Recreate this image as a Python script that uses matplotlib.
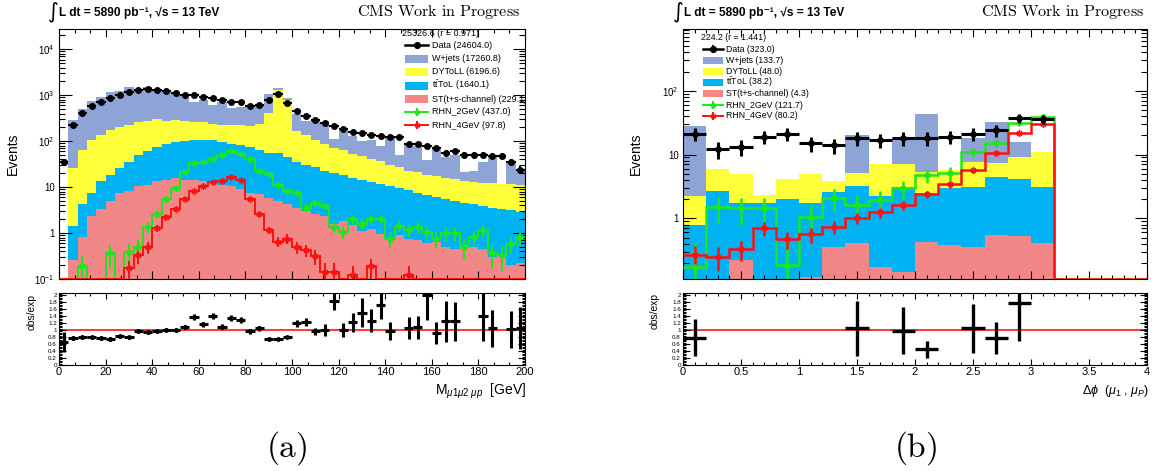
import numpy as np
import matplotlib
matplotlib.use("Agg")
import matplotlib.pyplot as plt
from matplotlib.patches import Rectangle
from matplotlib.lines import Line2D
from matplotlib.ticker import MultipleLocator, LogLocator, FuncFormatter, NullFormatter

plt.rcParams["font.family"] = ["Liberation Sans", "DejaVu Sans"]
plt.rcParams["mathtext.fontset"] = "custom"
plt.rcParams["mathtext.rm"] = "Liberation Sans"
plt.rcParams["mathtext.it"] = "Liberation Sans:italic"
plt.rcParams["mathtext.bf"] = "Liberation Sans:bold"
plt.rcParams["axes.linewidth"] = 0.8

nan = np.nan

# ---------------- (a) three-muon invariant mass, 4 GeV bins ----------------
mass_edges = np.arange(0, 201, 4)
mass_data = [35, 220, 405, 590, 720, 890, 1020, 1180, 1290, 1390,
             1320, 1260, 1140, 1030, 1000, 910, 880, 790, 720, 700,
             590, 620, 780, 1050, 690, 460, 345, 283, 247, 210,
             187, 158, 153, 135, 130, 126, 124, 86, 86, 78,
             70, 56, 61, 50, 50, 50, 48, 48, 35, 24]
mass_wjets = [0, 260, 449, 642, 800, 1031, 1039, 1266, 1070, 1213,
              1070, 966, 850, 672, 470, 518, 389, 490, 317, 327,
              395, 355, 634, 120, 82, 217, 145, 182, 159, 43,
              125, 76, 55, 64, 40, 99, 23, 59, 59, 20,
              58.5, 29, 34, 8, 9, 23.5, 34, 0, 22.5, 11.8]
mass_dyll = [0, 24.5, 59.8, 97.4, 121.6, 153.3, 179, 192, 210, 221,
             229, 193, 193, 182, 155, 155, 135, 131, 131, 138,
             137, 171, 365, 1245, 734, 134, 106, 81, 66, 51,
             45, 37, 33, 28, 25, 20, 18, 14.5, 13.8, 11.9,
             11.5, 10.2, 10.1, 9.2, 9.0, 8.4, 8.7, 8.3, 8.6, 8.1]
mass_ttbar = [0, 1.2, 3.4, 5.2, 10.1, 13.7, 18.4, 27.8, 39.5, 49.6,
              62.6, 74.4, 81.1, 85.4, 90.9, 91.6, 92.6, 85.6, 78.5, 73.1,
              68.4, 57, 49.1, 50, 41.8, 32.4, 28, 24.4, 20.6, 18.4,
              16.2, 14.5, 13.4, 11.8, 10.85, 9.7, 8.6, 7.75, 6.9, 6.3,
              5.55, 5.1, 4.65, 4.05, 3.7, 3.45, 3.3, 2.95, 2.9, 2.68]
mass_st = [0, 0.26, 0.82, 2.4, 3.3, 5.0, 7.6, 8.2, 10.5, 11.4,
           13.4, 14.6, 15.9, 14.6, 14.1, 13.4, 12.4, 11.4, 10.5, 8.9,
           7.6, 7.0, 5.9, 5.0, 4.2, 3.6, 3.0, 2.6, 2.4, 1.6,
           1.8, 1.5, 1.1, 1.2, 0.95, 0.8, 0.9, 0.75, 0.7, 0.6,
           0.65, 0.5, 0.45, 0.55, 0.5, 0.45, 0.3, 0.35, 0.2, 0.22]
mass_rhn2 = [0, 0, 0.19, 0, 0, 0.36, 0, 0.38, 0.5, 1.35,
             2.6, 5.5, 9.7, 21, 33, 36, 42, 50, 61, 53,
             42, 22, 19, 11.4, 8.2, 7.6, 3.6, 4.6, 3.9, 1.35,
             1.05, 2.0, 1.6, 2.0, 2.0, 0.76, 1.45, 1.15, 1.35, 1.05,
             0.76, 0.98, 0.98, 0.5, 0.82, 1.15, 0.36, 0.33, 0.59, 0.82]
mass_rhn4 = [0, 0, 0, 0, 0, 0, 0, 0.17, 0.33, 0.5,
             1.3, 2.2, 3.3, 5.5, 8.2, 10.5, 12.8, 13.9, 16.4, 14.6,
             5.5, 2.6, 1.15, 0.65, 0.76, 0.5, 0.43, 0.31, 0.145, 0.145,
             0, 0.125, 0, 0.19, 0, 0, 0, 0.125, 0, 0,
             0, 0, 0, 0, 0, 0, 0, 0, 0, 0]
mass_ratio = [0.65, 0.77, 0.79, 0.79, 0.77, 0.74, 0.82, 0.79, 0.97, 0.93,
              0.96, 1.01, 1.0, 1.08, 1.37, 1.17, 1.4, 1.1, 1.34, 1.28,
              0.97, 1.05, 0.74, 0.74, 0.8, 1.19, 1.23, 0.97, 1.0, 1.83,
              1.0, 1.22, 1.5, 1.27, 1.72, 0.97, nan, 1.05, 1.08, 2.0,
              0.92, 1.25, 1.25, nan, nan, 1.4, 1.05, nan, 1.02, 1.05]
mass_ratio_err = [0.28, 0.06, 0.05, 0.05, 0.05, 0.05, 0.05, 0.05, 0.05, 0.05,
                  0.05, 0.05, 0.05, 0.06, 0.08, 0.07, 0.09, 0.07, 0.09, 0.08,
                  0.07, 0.07, 0.03, 0.03, 0.04, 0.1, 0.12, 0.1, 0.16, 0.27,
                  0.2, 0.27, 0.42, 0.34, 0.41, 0.25, nan, 0.32, 0.33, 0.72,
                  0.32, 0.58, 0.55, nan, nan, 0.7, 0.53, nan, 0.53, 0.6]
mass_header = "25326.6 (r = 0.971)"
mass_labels = ["Data (24604.0)", "W+jets (17260.8)", "DYToLL (6196.6)",
               r"t$\bar{\mathrm{t}}$ToL (1640.1)", "ST(t+s-channel) (229.1)",
               "RHN_2GeV (437.0)", "RHN_4GeV (97.8)"]

# ---------------- (b) delta phi(mu1, muP), 0.2 bins ----------------
dphi_edges = np.round(np.arange(0, 4.001, 0.2), 2)
dphi_data = [21, 12, 13, 19, 21, 15, 14, 18, 17, 18,
             18, 19, 21, 24, 37, 36, 0, 0, 0, 0]
dphi_wjets = [25.8, 0, 0, 0, 0, 0, 0, 14.8, 0, 10.8,
              37.2, 0, 10.2, 25.3, 6.7, 0, 0, 0, 0, 0]
dphi_dyll = [1.45, 3.2, 3.14, 0.6, 2.1, 3.2, 1.2, 1.95, 4.86, 3.96,
             2.94, 2.75, 4.56, 2.8, 5.1, 7.86, 0, 0, 0, 0]
dphi_ttbar = [0.79, 2.7, 1.54, 1.72, 1.87, 1.64, 2.23, 2.85, 2.06, 3.0,
              2.03, 2.57, 2.78, 3.95, 3.58, 2.73, 0, 0, 0, 0]
dphi_st = [0, 0, 0.22, 0, 0.11, 0.12, 0.35, 0.41, 0.175, 0.146,
           0.43, 0.38, 0.36, 0.55, 0.52, 0.41, 0, 0, 0, 0]
dphi_rhn2 = [0.175, 1.52, 1.43, 1.43, 0.185, 1.06, 2.06, 1.62, 1.94, 2.95,
             4.77, 5.07, 11.0, 15.3, 31.6, 39.0, 0, 0, 0, 0]
dphi_rhn4 = [0.27, 0.25, 0.33, 0.70, 0.47, 0.56, 0.74, 1.02, 1.24, 1.62,
             2.38, 3.4, 5.7, 10.7, 21.4, 30.0, 0, 0, 0, 0]
dphi_ratio = [0.78, nan, nan, nan, nan, nan, nan, 1.05, nan, 0.98,
              0.45, nan, 1.05, 0.77, 1.77, nan, nan, nan, nan, nan]
dphi_ratio_err = [0.53, nan, nan, nan, nan, nan, nan, 0.78, nan, 0.67,
                  0.24, nan, 0.7, 0.45, 1.09, nan, nan, nan, nan, nan]
dphi_header = "224.2 (r = 1.441)"
dphi_labels = ["Data (323.0)", "W+jets (133.7)", "DYToLL (48.0)",
               r"t$\bar{\mathrm{t}}$ToL (38.2)", "ST(t+s-channel) (4.3)",
               "RHN_2GeV (121.7)", "RHN_4GeV (80.2)"]

# ---------------- style ----------------
COL_W = "#8fa4d6"
COL_DY = "#ffff3a"
COL_TT = "#00b2f2"
COL_ST = "#f28787"
COL_RHN2 = "#1ee61e"
COL_RHN4 = "#ff1010"
ASTER = (6, 2, 0)

FIG_W, FIG_H = 1154, 471
fig = plt.figure(figsize=(FIG_W / 100, FIG_H / 100), dpi=100)


def frame(x0, y0, x1, y1):
    return [x0 / FIG_W, 1 - y1 / FIG_H, (x1 - x0) / FIG_W, (y1 - y0) / FIG_H]


def fpos(x, y):
    return x / FIG_W, 1 - y / FIG_H


def decade_label(v, pos):
    e = int(round(np.log10(v)))
    if e == 0:
        return "1"
    if e == 1:
        return "10"
    return r"$10^{%d}$" % e


def draw_stack(ax, edges, layers, floor):
    lower = np.full(len(edges) - 1, floor)
    total = np.zeros(len(edges) - 1)
    for vals, col in layers:
        total = total + np.asarray(vals, float)
        upper = np.where(total > 0, np.maximum(total, floor), floor)
        ax.stairs(upper, edges, baseline=lower, fill=True, color=col, lw=0, zorder=1)
        lower = upper


def draw_signal(ax, edges, vals, col, weight, floor, lw, ms):
    vals = np.asarray(vals, float)
    centers = 0.5 * (edges[:-1] + edges[1:])
    ax.stairs(np.maximum(vals, floor), edges, baseline=None, color=col, lw=lw, zorder=4)
    m = vals > 0
    err = np.sqrt(weight * vals[m])
    lo = np.minimum(err, vals[m] - 0.5 * floor)
    ax.errorbar(centers[m], vals[m], yerr=[lo, err], fmt="none", ecolor=col,
                elinewidth=lw, capsize=0, zorder=4)
    ax.plot(centers[m], vals[m], ls="none", marker=ASTER, ms=ms, mec=col, mew=1.1, zorder=5)


def draw_data(ax, edges, counts, ms, lw):
    counts = np.asarray(counts, float)
    centers = 0.5 * (edges[:-1] + edges[1:])
    half = 0.5 * np.diff(edges)
    m = counts > 0
    ax.errorbar(centers[m], counts[m], yerr=np.sqrt(counts[m]), xerr=half[m], fmt="o",
                ms=ms, color="k", elinewidth=lw, capsize=0, zorder=6)


def draw_ratio(ax, edges, ratio, err, ms, lw):
    ratio = np.asarray(ratio, float)
    err = np.asarray(err, float)
    centers = 0.5 * (edges[:-1] + edges[1:])
    half = 0.5 * np.diff(edges)
    m = ~np.isnan(ratio)
    ax.axhline(1.0, color="red", lw=1.1, zorder=1)
    ax.errorbar(centers[m], ratio[m], yerr=err[m], xerr=half[m], fmt="o", ms=ms,
                color="k", elinewidth=lw, capsize=0, zorder=3)
    ax.set_ylim(0, 2.06)


def style_main(ax, xmaj, xmin, ylim):
    ax.set_yscale("log", nonpositive="clip")
    ax.set_ylim(*ylim)
    ax.xaxis.set_major_locator(MultipleLocator(xmaj))
    ax.xaxis.set_minor_locator(MultipleLocator(xmin))
    ax.yaxis.set_major_locator(LogLocator(base=10, numticks=20))
    ax.yaxis.set_minor_locator(LogLocator(base=10, subs=np.arange(2, 10), numticks=20))
    ax.yaxis.set_major_formatter(FuncFormatter(decade_label))
    ax.yaxis.set_minor_formatter(NullFormatter())
    ax.tick_params(which="both", direction="in", top=True, right=True, width=0.8,
                   labelbottom=False, labelsize=7, pad=3)
    ax.tick_params(axis="y", which="major", length=9)
    ax.tick_params(axis="y", which="minor", length=4.5)
    ax.tick_params(axis="x", which="major", length=5.5)
    ax.tick_params(axis="x", which="minor", length=2.8)


def style_ratio(ax, xlim, xmaj, xmin):
    ax.set_xlim(*xlim)
    ax.xaxis.set_major_locator(MultipleLocator(xmaj))
    ax.xaxis.set_minor_locator(MultipleLocator(xmin))
    ax.xaxis.set_major_formatter(FuncFormatter(lambda v, p: "%g" % round(v, 2)))
    ax.yaxis.set_major_locator(MultipleLocator(0.2))
    ax.yaxis.set_minor_locator(MultipleLocator(0.04))
    ax.yaxis.set_major_formatter(FuncFormatter(lambda v, p: "%g" % round(v, 2)))
    ax.tick_params(which="both", direction="in", top=True, right=True, width=0.8)
    ax.tick_params(axis="x", which="major", length=4, labelsize=8, pad=1.5)
    ax.tick_params(axis="x", which="minor", length=2)
    ax.tick_params(axis="y", which="major", length=5, labelsize=4.5, pad=1.5)
    ax.tick_params(axis="y", which="minor", length=2.5)


def draw_legend(ax, header, header_xy, rows_y, hx0, hx1, text_x, labels, fs, patch_h,
                ms, data_bar):
    ax.text(*fpos(*header_xy), header, transform=fig.transFigure, fontsize=fs,
            va="center", ha="left", clip_on=True)
    kinds = [("data", "black"), ("fill", COL_W), ("fill", COL_DY), ("fill", COL_TT),
             ("fill", COL_ST), ("line", COL_RHN2), ("line", COL_RHN4)]
    xm = 0.5 * (hx0 + hx1)
    for (kind, col), y, lab in zip(kinds, rows_y, labels):
        if kind == "fill":
            x, yb = fpos(hx0, y + patch_h / 2)
            fig.add_artist(Rectangle((x, yb), (hx1 - hx0) / FIG_W, patch_h / FIG_H,
                                     transform=fig.transFigure, color=col, lw=0))
        else:
            (xa, ya), (xb, _) = fpos(hx0, y), fpos(hx1, y)
            fig.add_artist(Line2D([xa, xb], [ya, ya], transform=fig.transFigure,
                                  color=col, lw=1.8 if kind == "data" else 1.4))
            xc, yc = fpos(xm, y)
            if kind != "data" or data_bar:
                (_, yt), (_, ybm) = fpos(xm, y - 3), fpos(xm, y + 3)
                fig.add_artist(Line2D([xc, xc], [ybm, yt], transform=fig.transFigure,
                                      color=col, lw=1.4))
            fig.add_artist(Line2D([xc], [yc], transform=fig.transFigure, ls="none",
                                  marker="o" if kind == "data" else ASTER, ms=ms,
                                  color=col, mec=col, mew=1.1))
        ax.text(*fpos(text_x, y), lab, transform=fig.transFigure, fontsize=fs,
                va="center", ha="left", clip_on=True)


# ---------------- panel (a) ----------------
mass_floor = 0.1
ax_m = fig.add_axes(frame(59, 29, 525, 279))
draw_stack(ax_m, mass_edges, [(mass_st, COL_ST), (mass_ttbar, COL_TT),
                              (mass_dyll, COL_DY), (mass_wjets, COL_W)], mass_floor)
draw_signal(ax_m, mass_edges, mass_rhn2, COL_RHN2, 0.1, mass_floor, 1.4, 4.5)
draw_signal(ax_m, mass_edges, mass_rhn4, COL_RHN4, 0.04, mass_floor, 1.4, 4.5)
draw_data(ax_m, mass_edges, mass_data, 4.0, 1.5)
ax_m.set_xlim(0, 200)
style_main(ax_m, 20, 20 / 3, (mass_floor, 27700))
draw_legend(ax_m, mass_header, (402, 33), [45, 58.5, 72, 85.5, 99, 112, 125],
            405, 428, 432, mass_labels, 6.5, 8, 4, False)

ax_mr = fig.add_axes(frame(59, 293, 525, 365))
draw_ratio(ax_mr, mass_edges, mass_ratio, mass_ratio_err, 2.5, 2.2)
style_ratio(ax_mr, (0, 200), 20, 20 / 3)

# ---------------- panel (b) ----------------
dphi_floor = 0.112
ax_d = fig.add_axes(frame(683, 29, 1147, 279))
draw_stack(ax_d, dphi_edges, [(dphi_st, COL_ST), (dphi_ttbar, COL_TT),
                              (dphi_dyll, COL_DY), (dphi_wjets, COL_W)], dphi_floor)
draw_signal(ax_d, dphi_edges, dphi_rhn2, COL_RHN2, 0.3, dphi_floor, 1.8, 4.5)
draw_signal(ax_d, dphi_edges, dphi_rhn4, COL_RHN4, 0.04, dphi_floor, 1.8, 4.5)
draw_data(ax_d, dphi_edges, dphi_data, 3.8, 2.2)
ax_d.set_xlim(0, 4)
style_main(ax_d, 0.5, 0.1, (dphi_floor, 927))
draw_legend(ax_d, dphi_header, (701, 37), [49, 60.5, 71.5, 82.5, 93.5, 105, 116],
            703, 723, 726, dphi_labels, 6.3, 7, 4, True)

ax_dr = fig.add_axes(frame(683, 293, 1147, 365))
draw_ratio(ax_dr, dphi_edges, dphi_ratio, dphi_ratio_err, 2.5, 2.4)
style_ratio(ax_dr, (0, 4), 0.5, 0.1)

# ---------------- titles, axis titles, captions ----------------
for x_int, x_txt, x_cms in [(48, 59, 520), (673, 684, 1144)]:
    fig.text(*fpos(x_int, 12), "\u222b", fontsize=15, ha="left", va="center",
             family="DejaVu Sans")
    fig.text(*fpos(x_txt, 13), "L dt = 5890 pb\u207b\u00b9, \u221as = 13 TeV",
             fontsize=8.6, fontweight="bold", ha="left", va="center",
             family=["Liberation Sans", "DejaVu Sans"])
    fig.text(*fpos(x_cms, 12), r"$\mathrm{CMS\ Work\ in\ Progress}$", fontsize=11.6,
             ha="right", va="center", math_fontfamily="cm")

fig.text(*fpos(13, 154), "Events", rotation=90, fontsize=10, ha="center", va="center")
fig.text(*fpos(636, 154), "Events", rotation=90, fontsize=10, ha="center", va="center")
fig.text(*fpos(32, 312), "obs/exp", rotation=90, fontsize=7.4, ha="center", va="center")
fig.text(*fpos(655, 311), "obs/exp", rotation=90, fontsize=7.4, ha="center", va="center")

fig.text(*fpos(526, 391), r"M$_{\mu 1 \mu 2\ \mu p}$  [GeV]", fontsize=10,
         ha="right", va="center")
fig.text(*fpos(1149, 391), r"$\Delta\phi$  ($\mu_{1}$ , $\mu_{P}$)", fontsize=9,
         ha="right", va="center")

fig.text(*fpos(287, 448), r"$\mathrm{(a)}$", fontsize=24, ha="center", va="center",
         math_fontfamily="cm")
fig.text(*fpos(916, 448), r"$\mathrm{(b)}$", fontsize=24, ha="center", va="center",
         math_fontfamily="cm")

fig.savefig("out.png", dpi=100, facecolor="white")
